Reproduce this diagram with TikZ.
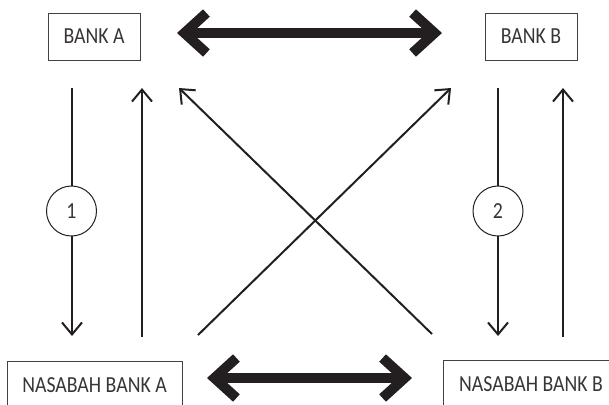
\documentclass[tikz,border=0pt]{standalone}
\usepackage{fontspec}
\setmainfont{Carlito}[FakeStretch=0.86]
\usetikzlibrary{arrows.meta}
\definecolor{ink}{HTML}{231F20}

\tikzset{
  party/.style={draw=ink!85, line width=0.5pt, inner sep=0pt, text=ink!90,
    font=\fontsize{11.5}{13}\selectfont},
  flow/.style={line width=1pt, draw=ink, -{Straight Barb[length=6pt,width=10pt]}},
  barb/.style={Straight Barb[length=11pt,width=20pt,line cap=butt,line join=miter]},
  trade/.style={line width=5pt, draw=ink, {Straight Barb[length=11pt,width=20pt,line cap=butt,line join=miter]}-{Straight Barb[length=11pt,width=20pt,line cap=butt,line join=miter]}},
  num/.style={circle, draw=ink, line width=0.5pt, fill=white, minimum size=25pt,
    inner sep=0pt, text=ink!90, font=\fontsize{11.5}{13}\selectfont}
}

\begin{document}
\begin{tikzpicture}[x=0.5pt,y=-0.5pt]
    \useasboundingbox (0,0) rectangle (609,404);
    % Banks
    \node[party, minimum width=46pt, minimum height=23.5pt] (bankA) at (94,36.5) {BANK A};
    \node[party, minimum width=46pt, minimum height=23.5pt] (bankB) at (531,36.5) {BANK B};
    % Customers
    \node[party, minimum width=87.5pt, minimum height=24pt] (nasA) at (94.5,385) {NASABAH BANK A};
    \node[party, minimum width=88pt, minimum height=24pt] (nasB) at (531,384.5) {NASABAH BANK B};
    %
    % Arrow end points
    \coordinate (aDownT) at (72,88);   \coordinate (aDownB) at (72,336);
    \coordinate (aUpB) at (142,337);   \coordinate (aUpT) at (142,88);
    \coordinate (bDownT) at (498,88);  \coordinate (bDownB) at (498,336);
    \coordinate (bUpB) at (563,337);   \coordinate (bUpT) at (563,88);
    \coordinate (crossAB) at (198,335); \coordinate (crossAT) at (451,88);
    \coordinate (crossBB) at (432,334); \coordinate (crossBT) at (179,88);
    \coordinate (topL) at (177,33);    \coordinate (topR) at (442,33);
    \coordinate (botL) at (207,378);   \coordinate (botR) at (412,378);
    %
    % Flows between bank and customer
    \draw[flow] (aDownT) -- (aDownB);
    \draw[flow] (aUpB) -- (aUpT);
    \draw[flow] (bDownT) -- (bDownB);
    \draw[flow] (bUpB) -- (bUpT);
    % Flows across
    \draw[flow] (crossAB) -- (crossAT);
    \draw[flow] (crossBB) -- (crossBT);
    % Two-way links
    \draw[trade] (topL) -- (topR);
    \draw[trade] (botL) -- (botR);
    %
    % Step markers
    \node[num] (stepA) at (71.5,211) {1};
    \node[num] (stepB) at (498,211) {2};
\end{tikzpicture}
\end{document}
